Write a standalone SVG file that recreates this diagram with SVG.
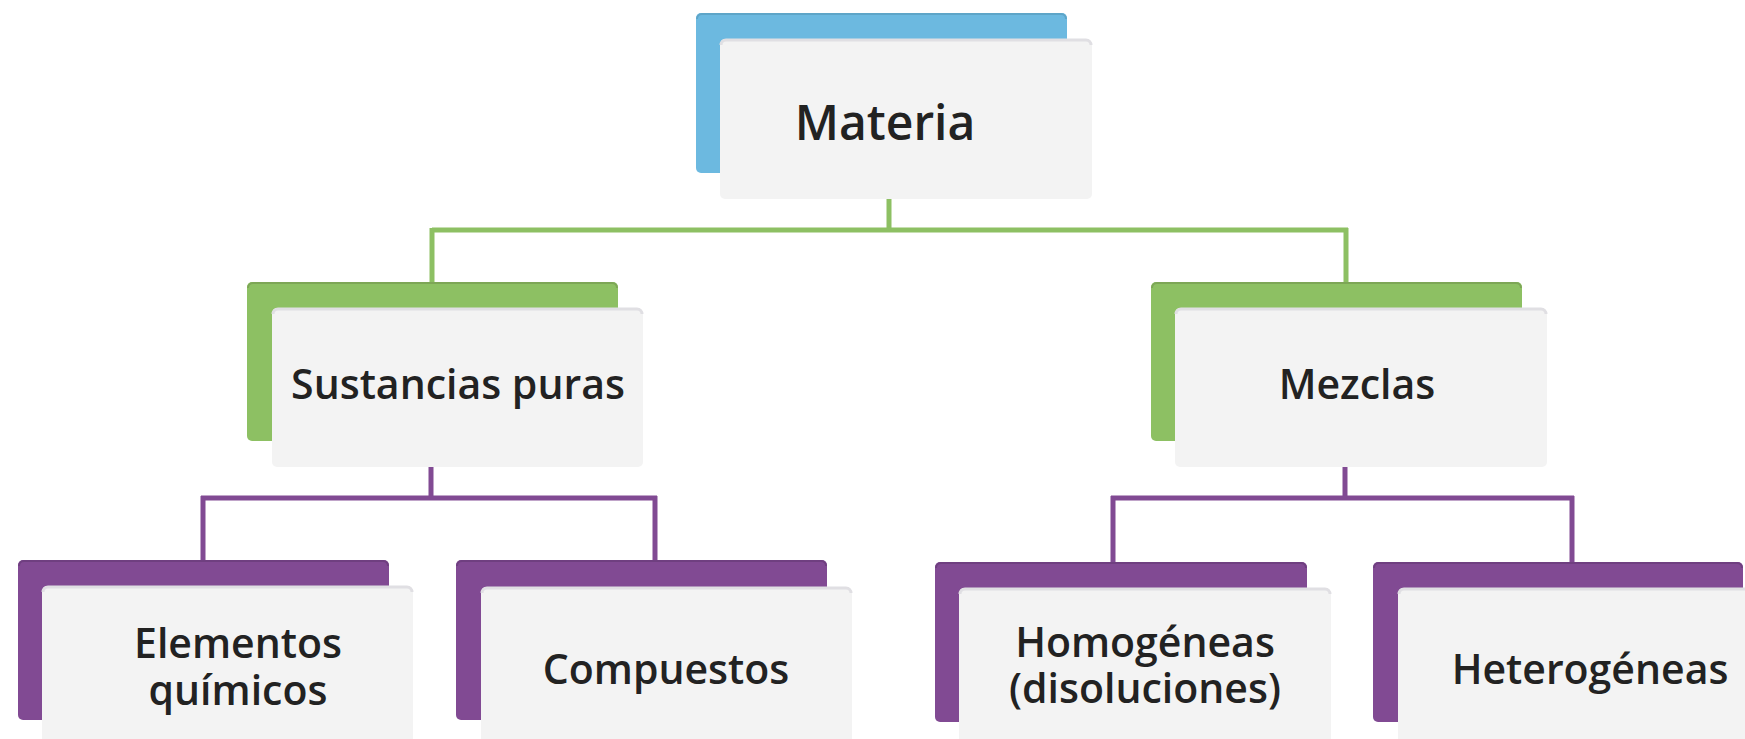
<svg xmlns="http://www.w3.org/2000/svg" width="1745" height="739" viewBox="0 0 1745 739">
<style>
.bg{fill:#ffffff}
.blue{fill:#6cb9e0}
.green{fill:#8dc063}
.purple{fill:#814a93}
.card{fill:#f3f3f3}
.edge-blue{fill:none;stroke:#5ea5c8;stroke-width:2}
.edge-green{fill:none;stroke:#7da656;stroke-width:2}
.edge-purple{fill:none;stroke:#6f3f80;stroke-width:2}
.edge-card{fill:none;stroke:#e0dfe3;stroke-width:3}
.lg{fill:none;stroke:#8dc063;stroke-width:5}
.lp{fill:none;stroke:#814a93;stroke-width:5}
text{font-family:"Open Sans","Noto Sans","Liberation Sans",sans-serif;font-weight:600;fill:#222222;text-anchor:middle}
.t1{font-size:48px}
.t2{font-size:41px}
</style>
<rect class="bg" x="0" y="0" width="1745" height="739"/>
<g id="connectors">
<path class="lg" d="M889,199 V230 M432,230 H1348 M432,228 V282 M1346,228 V282"/>
<path class="lp" d="M431,467 V498 M201,498 H657 M203,496 V560 M655,496 V560"/>
<path class="lp" d="M1345,467 V498 M1111,498 H1574 M1113,496 V562 M1572,496 V562"/>
</g>
<g id="materia">
<rect class="blue" x="696" y="13" width="371" height="160" rx="5"/>
<path class="edge-blue" d="M697,19 a5,5 0 0 1 5,-5 h359 a5,5 0 0 1 5,5"/>
<rect class="card" x="720" y="39" width="372" height="160" rx="5"/>
<path class="edge-card" d="M721,45 a5,5 0 0 1 5,-5 h360 a5,5 0 0 1 5,5"/>
<text class="t1" x="885" y="140">Materia</text>
</g>
<g id="sustancias">
<rect class="green" x="247" y="282" width="371" height="159" rx="5"/>
<path class="edge-green" d="M248,288 a5,5 0 0 1 5,-5 h359 a5,5 0 0 1 5,5"/>
<rect class="card" x="272" y="308" width="371" height="159" rx="5"/>
<path class="edge-card" d="M273,314 a5,5 0 0 1 5,-5 h359 a5,5 0 0 1 5,5"/>
<text class="t2" x="458" y="399">Sustancias puras</text>
</g>
<g id="mezclas">
<rect class="green" x="1151" y="282" width="371" height="159" rx="5"/>
<path class="edge-green" d="M1152,288 a5,5 0 0 1 5,-5 h359 a5,5 0 0 1 5,5"/>
<rect class="card" x="1175" y="308" width="372" height="159" rx="5"/>
<path class="edge-card" d="M1176,314 a5,5 0 0 1 5,-5 h360 a5,5 0 0 1 5,5"/>
<text class="t2" x="1357" y="399">Mezclas</text>
</g>
<g id="elementos">
<rect class="purple" x="18" y="560" width="371" height="160" rx="5"/>
<path class="edge-purple" d="M19,566 a5,5 0 0 1 5,-5 h359 a5,5 0 0 1 5,5"/>
<rect class="card" x="42" y="586" width="371" height="180" rx="5"/>
<path class="edge-card" d="M43,592 a5,5 0 0 1 5,-5 h359 a5,5 0 0 1 5,5"/>
<text class="t2" x="238" y="658">Elementos</text>
<text class="t2" x="238" y="705">químicos</text>
</g>
<g id="compuestos">
<rect class="purple" x="456" y="560" width="371" height="160" rx="5"/>
<path class="edge-purple" d="M457,566 a5,5 0 0 1 5,-5 h359 a5,5 0 0 1 5,5"/>
<rect class="card" x="481" y="587" width="371" height="180" rx="5"/>
<path class="edge-card" d="M482,593 a5,5 0 0 1 5,-5 h359 a5,5 0 0 1 5,5"/>
<text class="t2" x="666" y="684">Compuestos</text>
</g>
<g id="homogeneas">
<rect class="purple" x="935" y="562" width="372" height="160" rx="5"/>
<path class="edge-purple" d="M936,568 a5,5 0 0 1 5,-5 h360 a5,5 0 0 1 5,5"/>
<rect class="card" x="959" y="588" width="372" height="180" rx="5"/>
<path class="edge-card" d="M960,594 a5,5 0 0 1 5,-5 h360 a5,5 0 0 1 5,5"/>
<text class="t2" x="1145" y="657">Homogéneas</text>
<text class="t2" x="1145" y="703">(disoluciones)</text>
</g>
<g id="heterogeneas">
<rect class="purple" x="1373" y="562" width="370" height="160" rx="5"/>
<path class="edge-purple" d="M1374,568 a5,5 0 0 1 5,-5 h358 a5,5 0 0 1 5,5"/>
<rect class="card" x="1398" y="588" width="372" height="180" rx="5"/>
<path class="edge-card" d="M1399,594 a5,5 0 0 1 5,-5 h360"/>
<text class="t2" x="1590" y="684">Heterogéneas</text>
</g>
</svg>
